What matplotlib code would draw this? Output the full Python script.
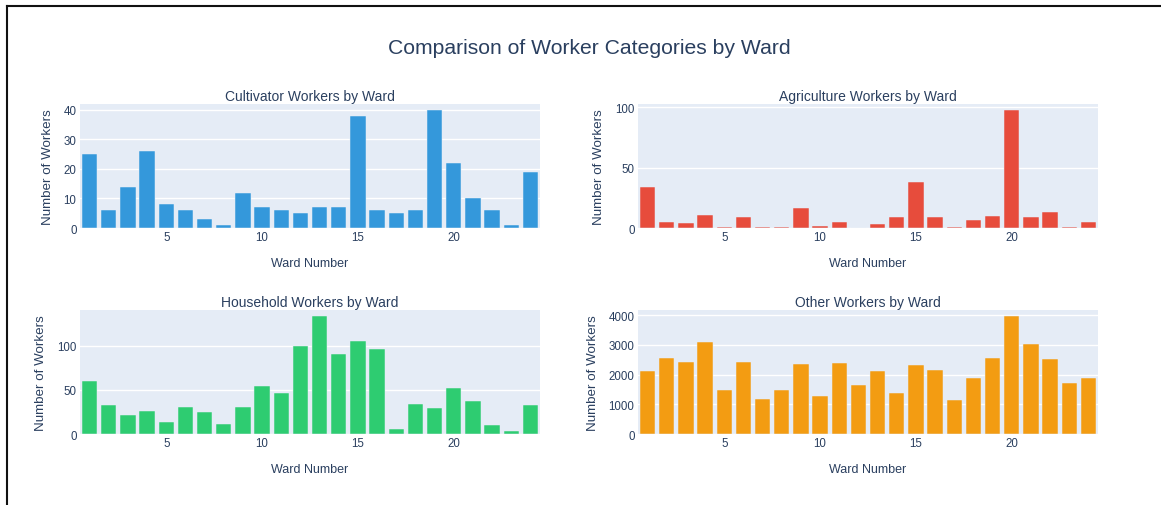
import numpy as np
import matplotlib.pyplot as plt
from matplotlib.lines import Line2D

plt.rcParams['font.family'] = ['Liberation Sans', 'DejaVu Sans']

# ward data
wards = list(range(1, 25))
cultivator = [25, 6, 14, 26, 8, 6, 3, 1, 12, 7, 6, 5, 7, 7, 38, 6, 5, 6, 40, 22, 10, 6, 1, 19]
agriculture = [34, 5, 4, 11, 1, 9, 1, 1, 17, 2, 5, 0, 3, 9, 38, 9, 1, 7, 10, 98, 9, 13, 1, 5]
household = [60, 33, 22, 26, 14, 31, 25, 11, 31, 55, 46, 100, 134, 91, 105, 97, 6, 34, 29, 52, 38, 10, 3, 33]
other = [2110, 2540, 2420, 3080, 1490, 2420, 1170, 1490, 2350, 1270, 2370, 1660, 2120, 1380,
         2330, 2150, 1135, 1890, 2540, 3970, 3010, 2530, 1720, 1890]

titles = ['Cultivator Workers by Ward', 'Agriculture Workers by Ward',
          'Household Workers by Ward', 'Other Workers by Ward']
colors = ['#3498db', '#e74c3c', '#2ecc71', '#f39c12']
yticks = [[0, 10, 20, 30, 40], [0, 50, 100], [0, 50, 100], [0, 1000, 2000, 3000, 4000]]

TEXT = '#2a3f5f'
BG = '#e5ecf6'

W, H = 1161, 506
fig = plt.figure(figsize=(W / 100, H / 100), dpi=100)

# axes boxes in pixels: left, top, right, bottom
boxes = [(80, 105, 540, 229), (638, 105, 1098, 229),
         (80, 311, 540, 435), (638, 311, 1098, 435)]

series = [cultivator, agriculture, household, other]
for i, (vals, box) in enumerate(zip(series, boxes)):
    l, t, r, b = box
    ax = fig.add_axes([l / W, 1 - b / H, (r - l) / W, (b - t) / H])
    ax.set_facecolor(BG)
    ax.bar(wards, vals, width=0.8, color=colors[i], edgecolor=BG, linewidth=0.35, zorder=3)
    ax.set_xlim(0.5, 24.5)
    ax.set_ylim(0, max(vals) * 1.05)
    ax.set_xticks([5, 10, 15, 20])
    ax.set_yticks(yticks[i])
    ax.grid(axis='y', color='white', linewidth=1, zorder=0)
    ax.grid(axis='x', visible=False)
    for s in ax.spines.values():
        s.set_visible(False)
    ax.tick_params(length=0, labelsize=8.3, colors=TEXT, pad=2.5)
    ax.set_title(titles[i], fontsize=10, color=TEXT, pad=3)
    ax.set_xlabel('Ward Number', fontsize=9, color=TEXT, labelpad=10)
    ax.set_ylabel('Number of Workers', fontsize=9.6, color=TEXT, labelpad=7)

fig.text(0.508, 0.905, 'Comparison of Worker Categories by Ward', ha='center', va='center',
         fontsize=15.2, color=TEXT)

# screenshot frame
fig.add_artist(Line2D([7 / W, 1], [1 - 7 / H, 1 - 7 / H], color='#111111', linewidth=1.5))
fig.add_artist(Line2D([7 / W, 7 / W], [0, 1 - 7 / H], color='#111111', linewidth=1.5))

plt.savefig('out.png', dpi=100)
